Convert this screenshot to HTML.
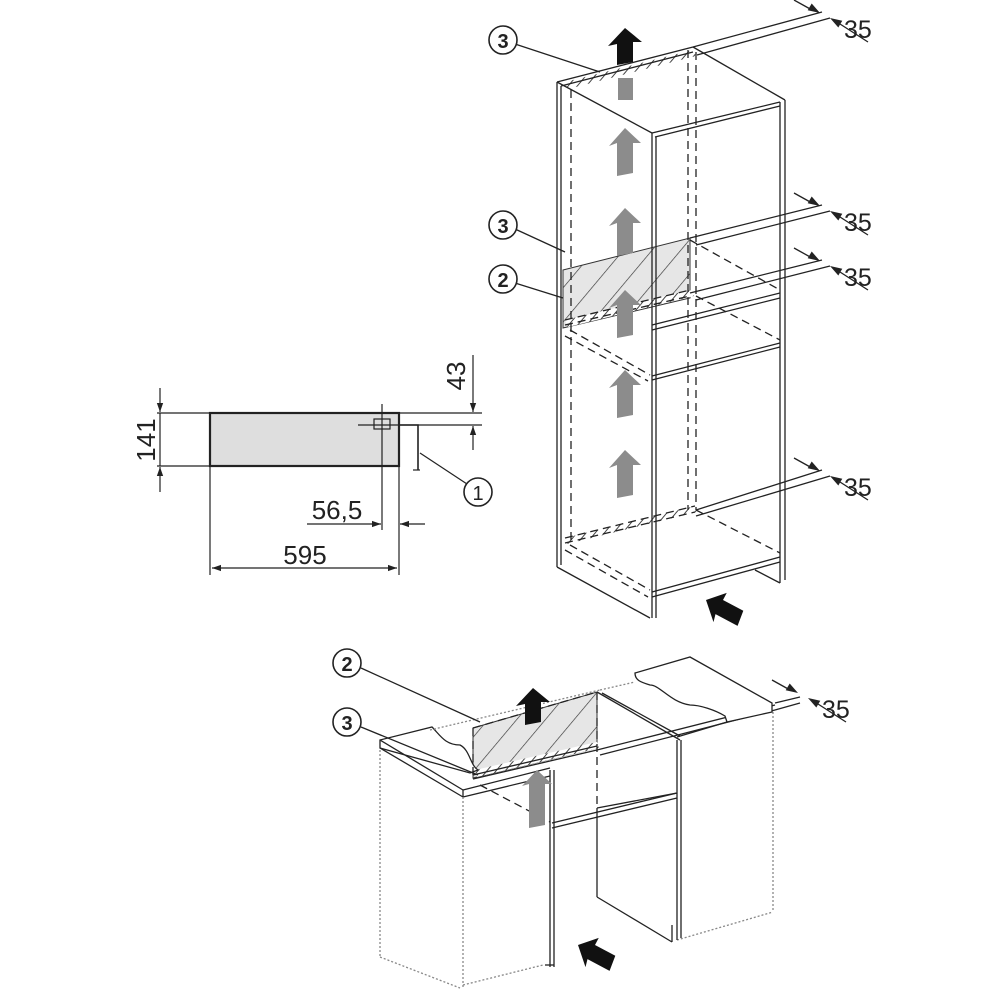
<!DOCTYPE html>
<html><head><meta charset="utf-8"><style>
html,body{margin:0;padding:0;background:#fff}
svg{display:block}
text{font-family:"Liberation Sans",sans-serif;fill:#222}
</style></head><body>
<svg width="1000" height="1000" viewBox="0 0 1000 1000" xmlns="http://www.w3.org/2000/svg">
<defs>
<pattern id="h" patternUnits="userSpaceOnUse" width="22" height="22" patternTransform="rotate(40)">
<rect width="22" height="22" fill="#e6e6e6"/><line x1="0" y1="0" x2="0" y2="22" stroke="#333" stroke-width="1.3"/>
</pattern>
<pattern id="hb" patternUnits="userSpaceOnUse" width="7" height="7" patternTransform="rotate(40)">
<rect width="7" height="7" fill="#fff"/><line x1="0" y1="0" x2="0" y2="7" stroke="#444" stroke-width="2"/>
</pattern>
<marker id="a" viewBox="0 0 10 10" refX="10" refY="5" markerWidth="9" markerHeight="9" orient="auto-start-reverse" markerUnits="userSpaceOnUse"><path d="M0,1.5 L10,5 L0,8.5z" fill="#222"/></marker>
<g id="dim">
<line x1="-28" y1="-12" x2="-10" y2="-2" stroke="#222" stroke-width="1.3"/>
<polygon points="-2,1 -14.3,-1.7 -10.3,-8.5" fill="#222"/>
<line x1="18" y1="12" x2="46" y2="30" stroke="#222" stroke-width="1.3"/>
<polygon points="8,6 16.3,15.5 20.3,8.7" fill="#222"/>
<text x="22" y="26" font-size="25">35</text>
</g>
<g id="gup"><polygon points="0,0 16,15 8,15 8,45 -8,48 -8,15 -16,18" fill="#8c8c8c"/></g>
<g id="bup"><polygon points="0,0 17,14 8,14 8,34 -8,37 -8,16 -17,18" fill="#111"/></g>
</defs>

<!-- LEFT DIAGRAM -->
<g stroke="#222" stroke-width="1.2" fill="none">
<rect x="210" y="413" width="189" height="53" fill="#dedede" stroke-width="2.2"/>
<line x1="157" y1="413" x2="210" y2="413"/>
<line x1="399" y1="413" x2="482" y2="413"/>
<line x1="157" y1="466" x2="210" y2="466"/>
<line x1="160" y1="388" x2="160" y2="412" marker-end="url(#a)"/>
<line x1="160" y1="492" x2="160" y2="467" marker-end="url(#a)"/>
<line x1="160" y1="413" x2="160" y2="466"/>
<line x1="400" y1="425" x2="482" y2="425"/>
<line x1="473" y1="355" x2="473" y2="412" marker-end="url(#a)"/>
<line x1="473" y1="450" x2="473" y2="426" marker-end="url(#a)"/>
<rect x="374" y="419" width="16" height="10"/>
<line x1="358" y1="425" x2="400" y2="425"/>
<line x1="382" y1="404" x2="382" y2="530"/>
<polyline points="399,425 418,425 418,470" stroke-width="1.6"/>
<line x1="413" y1="470" x2="420" y2="470"/>
<line x1="420" y1="453" x2="467" y2="484"/>
<circle cx="478" cy="492" r="14" fill="#fff" stroke-width="1.6"/>
<line x1="210" y1="466" x2="210" y2="575"/>
<line x1="399" y1="466" x2="399" y2="575"/>
<line x1="307" y1="524" x2="381" y2="524" marker-end="url(#a)"/>
<line x1="425" y1="524" x2="400" y2="524" marker-end="url(#a)"/>
<line x1="212" y1="568" x2="397" y2="568" marker-start="url(#a)" marker-end="url(#a)"/>
</g>
<text x="478" y="500" font-size="20" text-anchor="middle">1</text>
<text x="337" y="519" font-size="26" text-anchor="middle">56,5</text>
<text x="305" y="564" font-size="26" text-anchor="middle">595</text>
<text transform="translate(155,440) rotate(-90)" font-size="26" text-anchor="middle">141</text>
<text transform="translate(465,376) rotate(-90)" font-size="26" text-anchor="middle">43</text>

<!-- TALL CABINET -->
<polygon points="563,270 690,238 690,298 563,328" fill="url(#h)" stroke="#333" stroke-width="1"/>
<polygon points="565,82 693,50 696,56 568,89" fill="url(#hb)"/>
<polygon points="565,320 690,290 694,296 568,327" fill="url(#hb)"/>
<polygon points="565,538 695,506 697,512 567,544" fill="url(#hb)"/>
<g stroke="#222" stroke-width="1.3" fill="none">
<line x1="557" y1="82" x2="557" y2="567"/>
<line x1="561" y1="86" x2="561" y2="565"/>
<line x1="557" y1="82" x2="693" y2="47"/>
<line x1="561" y1="86" x2="693" y2="52"/>
<line x1="693" y1="47" x2="785" y2="100"/>
<line x1="557" y1="82" x2="652" y2="133"/>
<line x1="652" y1="133" x2="780" y2="102"/>
<line x1="655" y1="137" x2="780" y2="106"/>
<line x1="652" y1="133" x2="652" y2="618"/>
<line x1="656" y1="137" x2="656" y2="618"/>
<line x1="780" y1="102" x2="780" y2="583"/>
<line x1="785" y1="100" x2="785" y2="580"/>
<line x1="557" y1="567" x2="650" y2="618"/>
<line x1="652" y1="592" x2="780" y2="557"/>
<line x1="652" y1="597" x2="780" y2="562"/>
<line x1="755" y1="570" x2="780" y2="583"/>
<line x1="652" y1="325" x2="780" y2="293"/>
<line x1="652" y1="330" x2="780" y2="298"/>
<line x1="652" y1="380" x2="780" y2="347"/>
<line x1="652" y1="376" x2="780" y2="343"/>
<g stroke-dasharray="8,5">
<line x1="571" y1="90" x2="571" y2="545"/>
<line x1="688" y1="50" x2="688" y2="510"/>
<line x1="696" y1="52" x2="696" y2="510"/>
<line x1="570" y1="545" x2="650" y2="590"/>
<line x1="565" y1="550" x2="648" y2="597"/>
<line x1="696" y1="510" x2="780" y2="553"/>
<line x1="570" y1="330" x2="650" y2="375"/>
<line x1="565" y1="336" x2="648" y2="381"/>
<line x1="690" y1="240" x2="780" y2="290"/>
<line x1="696" y1="296" x2="780" y2="340"/>
<line x1="565" y1="538" x2="695" y2="506"/>
<line x1="565" y1="543" x2="695" y2="512"/>
<line x1="565" y1="320" x2="690" y2="290"/>
<line x1="565" y1="325" x2="690" y2="296"/>
</g>
<line x1="693" y1="47" x2="822" y2="12"/>
<line x1="697" y1="55" x2="830" y2="18"/>
<line x1="690" y1="238" x2="822" y2="205"/>
<line x1="696" y1="245" x2="830" y2="211"/>
<line x1="690" y1="293" x2="822" y2="260"/>
<line x1="696" y1="300" x2="830" y2="266"/>
<line x1="696" y1="510" x2="822" y2="470"/>
<line x1="696" y1="516" x2="830" y2="476"/>
<line x1="600" y1="72" x2="515" y2="44"/>
<line x1="565" y1="252" x2="515" y2="229"/>
<line x1="563" y1="298" x2="515" y2="283"/>
<circle cx="503" cy="40" r="14" fill="#fff" stroke-width="1.6"/>
<circle cx="503" cy="225" r="14" fill="#fff" stroke-width="1.6"/>
<circle cx="503" cy="279" r="14" fill="#fff" stroke-width="1.6"/>
</g>
<text x="503" y="48" font-size="20" font-weight="bold" text-anchor="middle">3</text>
<text x="503" y="233" font-size="20" font-weight="bold" text-anchor="middle">3</text>
<text x="503" y="287" font-size="20" font-weight="bold" text-anchor="middle">2</text>
<use href="#dim" x="822" y="12"/>
<use href="#dim" x="822" y="205"/>
<use href="#dim" x="822" y="260"/>
<use href="#dim" x="822" y="470"/>
<rect x="618" y="78" width="15" height="22" fill="#8c8c8c"/>
<use href="#bup" x="625" y="28"/>
<use href="#gup" x="625" y="128"/>
<use href="#gup" x="625" y="208"/>
<use href="#gup" x="625" y="290"/>
<use href="#gup" x="625" y="370"/>
<use href="#gup" x="625" y="450"/>
<polygon points="0,0 16,15 8,15 8,38 -8,40 -8,15 -16,17" fill="#111" transform="translate(706,600) rotate(-62)"/>

<!-- BOTTOM DIAGRAM -->
<polygon points="473,728 597,692 597,748 473,778" fill="url(#h)" stroke="#333" stroke-width="1"/>
<polygon points="475,770 597,742 599,748 477,777" fill="url(#hb)"/>
<g stroke="#222" stroke-width="1.3" fill="none">
<path d="M380,740 L432,727 C440,735 445,745 460,745 C470,750 470,765 478,770 L470,773 L380,748 Z" fill="#fff"/>
<line x1="380" y1="740" x2="463" y2="790"/>
<line x1="380" y1="748" x2="463" y2="797"/>
<line x1="463" y1="790" x2="463" y2="797"/>
<line x1="463" y1="790" x2="550" y2="768"/>
<line x1="463" y1="797" x2="550" y2="776"/>
<g stroke="#888" stroke-dasharray="2,2">
<line x1="380" y1="750" x2="380" y2="957"/>
<line x1="463" y1="797" x2="463" y2="988"/>
<line x1="380" y1="957" x2="460" y2="988"/>
<line x1="463" y1="985" x2="543" y2="965"/>
<line x1="773" y1="712" x2="773" y2="912"/>
<line x1="677" y1="940" x2="773" y2="912"/>
<line x1="430" y1="730" x2="600" y2="690"/>
<line x1="600" y1="690" x2="635" y2="682"/>
</g>
<line x1="550" y1="770" x2="550" y2="967"/>
<line x1="554" y1="770" x2="554" y2="967"/>
<line x1="545" y1="965" x2="554" y2="965"/>
<line x1="597" y1="692" x2="680" y2="740"/>
<line x1="602" y1="693" x2="680" y2="736"/>
<line x1="552" y1="823" x2="677" y2="793"/>
<line x1="552" y1="828" x2="677" y2="798"/>
<line x1="597" y1="808" x2="677" y2="793"/>
<line x1="597" y1="808" x2="597" y2="897"/>
<line x1="597" y1="897" x2="672" y2="942"/>
<line x1="677" y1="740" x2="677" y2="940"/>
<line x1="681" y1="740" x2="681" y2="938"/>
<line x1="672" y1="925" x2="672" y2="942"/>
<line x1="473" y1="775" x2="597" y2="746"/>
<line x1="473" y1="779" x2="597" y2="750"/>
<line x1="597" y1="750" x2="775" y2="705"/>
<line x1="600" y1="755" x2="775" y2="710"/>
<g stroke-dasharray="8,5">
<line x1="597" y1="692" x2="597" y2="808"/>
<line x1="473" y1="728" x2="473" y2="778"/>
<line x1="473" y1="728" x2="597" y2="692"/>
<line x1="480" y1="785" x2="550" y2="822"/>
</g>
<path d="M635,673 L690,657 L772,703 L772,712 L727,722 L725,716 C715,710 700,705 690,705 C670,702 660,685 650,685 C640,682 635,680 635,673 Z" fill="#fff"/>
<line x1="677" y1="737" x2="727" y2="722"/>
<line x1="775" y1="703" x2="800" y2="697"/>
<line x1="775" y1="710" x2="800" y2="703"/>
<line x1="361" y1="727" x2="478" y2="775"/>
<circle cx="347" cy="663" r="14" fill="#fff" stroke-width="1.6"/>
<circle cx="347" cy="722" r="14" fill="#fff" stroke-width="1.6"/>
</g>
<line x1="361" y1="668" x2="480" y2="722" stroke="#222" stroke-width="1.3"/>
<text x="347" y="671" font-size="20" font-weight="bold" text-anchor="middle">2</text>
<text x="347" y="730" font-size="20" font-weight="bold" text-anchor="middle">3</text>
<use href="#dim" x="800" y="692"/>
<use href="#bup" x="533" y="688"/>
<polygon points="0,0 15,14 8,14 8,55 -8,58 -8,14 -15,16" fill="#8c8c8c" transform="translate(537,770)"/>
<polygon points="0,0 16,15 8,15 8,38 -8,40 -8,15 -16,17" fill="#111" transform="translate(578,945) rotate(-62)"/>
</svg>
</body></html>
